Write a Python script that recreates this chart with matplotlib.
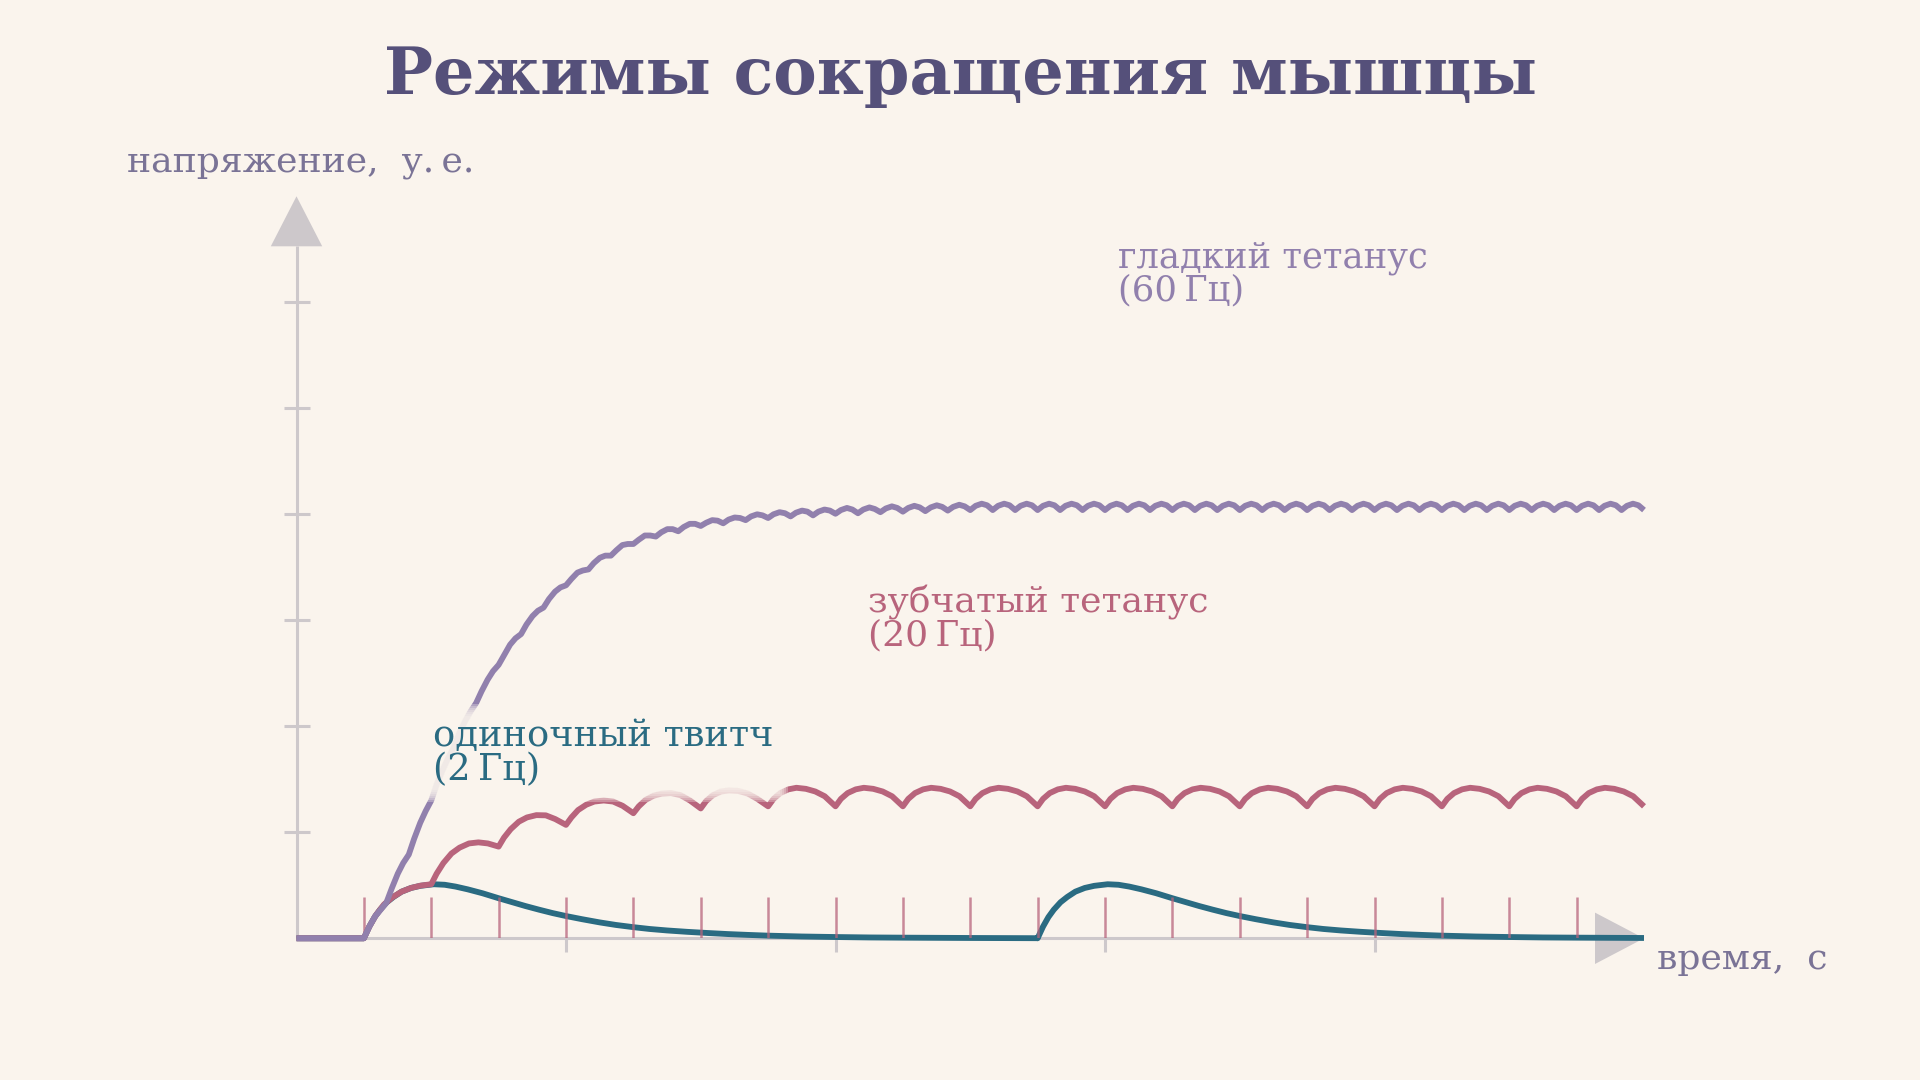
import matplotlib
matplotlib.use('Agg')
import matplotlib.pyplot as plt
from matplotlib.patches import Polygon, Rectangle
from matplotlib.transforms import IdentityTransform

# ---------------- данные ----------------
t_start = 0.05   # первый стимул, с
t_end = 1.0      # конец оси времени, с

# одиночный твитч (2 Гц): форма одного сокращения
twitch_stims = [0.05, 0.55]
twitch_offsets = [0, 0.004, 0.008, 0.012, 0.017, 0.022, 0.028, 0.035, 0.042,
                  0.052, 0.06, 0.068, 0.077, 0.088, 0.1, 0.11, 0.12, 0.13,
                  0.14, 0.15, 0.162, 0.175, 0.187, 0.2, 0.212, 0.225, 0.24,
                  0.255, 0.27, 0.285, 0.3, 0.325, 0.35, 0.375, 0.4, 0.45, 0.5]
twitch_values = [0, 0.11, 0.2, 0.27, 0.34, 0.39, 0.44, 0.475, 0.495,
                 0.51, 0.505, 0.488, 0.462, 0.425, 0.378, 0.341, 0.304, 0.27,
                 0.238, 0.21, 0.18, 0.15, 0.126, 0.105, 0.088, 0.074, 0.061,
                 0.05, 0.04, 0.032, 0.025, 0.017, 0.012, 0.008, 0.006, 0.003, 0.001]

# зубчатый тетанус (20 Гц): значения внутри каждого периода
tet20_freq = 20
tet20_offsets = [0, 0.004, 0.009, 0.015, 0.021, 0.028, 0.035, 0.042]
tet20_cycles = [
    [0.0, 0.11, 0.22, 0.32, 0.385, 0.44, 0.475, 0.497],
    [0.51, 0.61, 0.71, 0.8, 0.855, 0.895, 0.905, 0.895],
    [0.865, 0.95, 1.03, 1.1, 1.14, 1.162, 1.16, 1.125],
    [1.07, 1.14, 1.21, 1.26, 1.29, 1.3, 1.29, 1.25],
    [1.18, 1.245, 1.305, 1.345, 1.365, 1.37, 1.35, 1.3],
    [1.225, 1.295, 1.35, 1.385, 1.395, 1.39, 1.365, 1.315],
] + [[1.245, 1.315, 1.37, 1.405, 1.42, 1.41, 1.385, 1.34]] * 13
tet20_end = 1.245

# гладкий тетанус (60 Гц)
tet60_freq = 60
tet60_offsets = [0, 0.004, 0.0085, 0.0125]
tet60_cycles = [
    [0.0, 0.11, 0.21, 0.27],
    [0.335, 0.47, 0.61, 0.71],
    [0.79, 0.94, 1.09, 1.2],
    [1.3, 1.45, 1.59, 1.7],
    [1.8, 1.93, 2.05, 2.14],
    [2.22, 2.33, 2.44, 2.52],
    [2.58, 2.67, 2.77, 2.83],
    [2.87, 2.96, 3.04, 3.09],
    [3.12, 3.2, 3.27, 3.31],
    [3.33, 3.39, 3.45, 3.47],
    [3.48, 3.54, 3.59, 3.61],
    [3.61, 3.66, 3.71, 3.72],
    [3.72, 3.76, 3.8, 3.8],
    [3.79, 3.83, 3.86, 3.86],
    [3.84, 3.88, 3.91, 3.91],
    [3.89, 3.92, 3.945, 3.94],
    [3.915, 3.95, 3.97, 3.965],
    [3.945, 3.98, 4.0, 3.99],
    [3.965, 4.0, 4.02, 4.01],
    [3.98, 4.015, 4.035, 4.025],
    [3.99, 4.025, 4.045, 4.035],
    [4.005, 4.04, 4.06, 4.045],
    [4.01, 4.045, 4.065, 4.05],
    [4.02, 4.055, 4.075, 4.06],
    [4.025, 4.06, 4.08, 4.065],
    [4.03, 4.065, 4.085, 4.07],
    [4.035, 4.07, 4.09, 4.075],
] + [[4.04, 4.08, 4.10, 4.085]] * 30
tet60_end = 4.04

time_ticks = [0.2, 0.4, 0.6, 0.8]
volt_ticks = [1, 2, 3, 4, 5, 6]
y_top = 7.0

title = 'Режимы сокращения мышцы'
ylabel = 'напряжение,  у.\u2009е.'
xlabel = 'время,  с'
label_twitch = 'одиночный твитч\n(2\u2009Гц)'
label_t20 = 'зубчатый тетанус\n(20\u2009Гц)'
label_t60 = 'гладкий тетанус\n(60\u2009Гц)'

# ---------------- стиль ----------------
bg = '#faf4ed'
c_title = '#55507a'
c_axlabel = '#7a7396'
c_axis = '#cdc8cb'
c_t60 = '#9180ad'
c_t20 = '#b8647c'
c_twitch = '#2a6b82'
lw_curve = 4.2

plt.rcParams['font.family'] = ['DejaVu Serif']


def build_tetanus(freq, offsets, cycles, end_value):
    xs, ys = [0.0], [0.0]
    for k, cyc in enumerate(cycles):
        s = t_start + k / freq
        for o, v in zip(offsets, cyc):
            xs.append(s + o)
            ys.append(v)
    xs.append(t_end)
    ys.append(end_value)
    return xs, ys


def build_twitch():
    xs, ys = [0.0], [0.0]
    for s in twitch_stims:
        for o, v in zip(twitch_offsets, twitch_values):
            if s + o <= t_end + 1e-9:
                xs.append(s + o)
                ys.append(v)
    return xs, ys


fig = plt.figure(figsize=(19.2, 10.8), dpi=100)
fig.patch.set_facecolor(bg)

# оси: x=0 -> 296 px, 1 с = 1347.5 px; y=0 -> 938 px сверху, 1 у.е. = 106 px
ax = fig.add_axes([296.5 / 1920, (1080 - 938.3) / 1080, 1347.5 / 1920, 742 / 1080])
ax.set_xlim(0, t_end)
ax.set_ylim(0, y_top)
ax.axis('off')

px_x = 1 / 1347.5   # с на пиксель
px_y = 1 / 106.0    # у.е. на пиксель

# оси со стрелками
arrow_len_x = 49 * px_x
arrow_len_y = 50 * px_y
ax.plot([0, t_end - arrow_len_x], [0, 0], color=c_axis, lw=2.2, clip_on=False,
        solid_capstyle='butt', zorder=1)
ax.plot([0, 0], [0, y_top - arrow_len_y], color=c_axis, lw=2.2, clip_on=False,
        solid_capstyle='butt', zorder=1)
ax.add_patch(Polygon([(t_end - arrow_len_x, -25.7 * px_y), (t_end, 0),
                      (t_end - arrow_len_x, 25.7 * px_y)],
                     closed=True, facecolor=c_axis, edgecolor='none',
                     clip_on=False, zorder=1))
ax.add_patch(Polygon([(-25.7 * px_x, y_top - arrow_len_y), (0, y_top),
                      (25.7 * px_x, y_top - arrow_len_y)],
                     closed=True, facecolor=c_axis, edgecolor='none',
                     clip_on=False, zorder=1))

for v in volt_ticks:
    ax.plot([-13 * px_x, 13 * px_x], [v, v], color=c_axis, lw=2.2,
            clip_on=False, solid_capstyle='butt', zorder=1)
for t in time_ticks:
    ax.plot([t, t], [0, -14 * px_y], color=c_axis, lw=2.2,
            clip_on=False, solid_capstyle='butt', zorder=1)

# кривые
x_tw, y_tw = build_twitch()
x_20, y_20 = build_tetanus(tet20_freq, tet20_offsets, tet20_cycles, tet20_end)
x_60, y_60 = build_tetanus(tet60_freq, tet60_offsets, tet60_cycles, tet60_end)

ax.plot(x_tw, y_tw, color=c_twitch, lw=lw_curve, solid_capstyle='butt',
        solid_joinstyle='round', clip_on=False, zorder=2)
ax.plot(x_20, y_20, color=c_t20, lw=lw_curve, solid_capstyle='butt',
        solid_joinstyle='round', clip_on=False, zorder=3)

# отметки стимулов 20 Гц
stims20 = [t_start + k / tet20_freq for k in range(len(tet20_cycles))]
ax.vlines(stims20, 0, 0.39, color=c_t20, alpha=0.75, lw=1.8, zorder=3.5)

ax.plot(x_60, y_60, color=c_t60, lw=lw_curve, solid_capstyle='butt',
        solid_joinstyle='round', clip_on=False, zorder=4)

# тексты
fig.text(0.5, 1 - 76 / 1080, title, ha='center', va='center', fontsize=47,
         fontweight='bold', color=c_title, zorder=6)
fig.text(127 / 1920, 1 - 163 / 1080, ylabel, ha='left', va='center',
         fontsize=26, color=c_axlabel, zorder=6)
fig.text(1657 / 1920, 1 - 959 / 1080, xlabel, ha='left', va='center',
         fontsize=26, color=c_axlabel, zorder=6)

t_tw = fig.text(433 / 1920, 1 - 753 / 1080, label_twitch, ha='left',
                va='center', fontsize=26.5, color=c_twitch, linespacing=0.95,
                zorder=6)
fig.text(868 / 1920, 1 - 619 / 1080, label_t20, ha='left', va='center',
         fontsize=26, color=c_t20, linespacing=0.95, zorder=6)
fig.text(1118 / 1920, 1 - 274 / 1080, label_t60, ha='left', va='center',
         fontsize=25.5, color=c_t60, linespacing=0.95, zorder=6)

# мягкий ореол фона под подписью твитча
fig.canvas.draw()
bb = t_tw.get_window_extent()
steps = 7
for i in range(steps):
    pad = 14 - i * 2
    fig.add_artist(Rectangle((bb.x0 - pad, bb.y0 - pad), bb.width + 2 * pad,
                             bb.height + 2 * pad, transform=IdentityTransform(),
                             facecolor=bg, edgecolor='none', alpha=0.3,
                             zorder=5))

fig.savefig('out.png', dpi=100, facecolor=bg)
plt.close(fig)
